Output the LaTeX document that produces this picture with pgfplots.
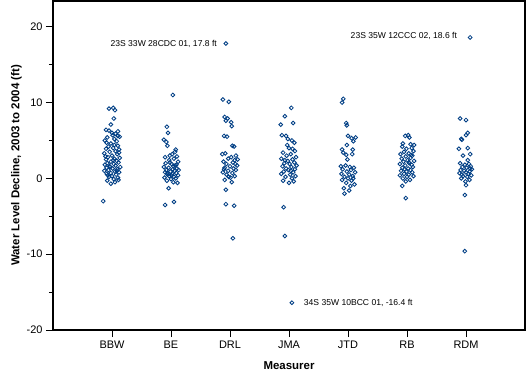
\documentclass[border=0pt]{standalone}
\usepackage{pgfplots}
\pgfplotsset{compat=1.18}
\usepackage{fontspec}
\setmainfont{Liberation Sans}
\definecolor{ptblue}{RGB}{0,62,132}
\begin{document}
\begin{tikzpicture}
\begin{axis}[
  at={(0,0)}, anchor=south west,
  scale only axis, width=472bp, height=329bp,
  xmin=-1, xmax=7, ymin=-20, ymax=23.4,
  xtick={0,1,2,3,4,5,6},
  xticklabels={BBW,BE,DRL,JMA,JTD,RB,RDM},
  ytick={-20,-10,0,10,20},
  minor ytick={-15,-5,5,15},
  tick pos=left, tick align=outside,
  major tick length=7bp, minor tick length=4bp,
  every tick/.style={black, line width=0.8bp},
  axis line style={black, line width=1.2bp},
  tick label style={font=\fontsize{11}{13}\selectfont},
  /pgf/number format/assume math mode=true,
  xlabel={\textbf{Measurer}},
  ylabel={\textbf{Water Level Decline, 2003 to 2004 (ft)}},
  label style={font=\fontsize{11.5}{13}\selectfont},
  xlabel style={yshift=-7bp},
  ylabel style={yshift=-2bp},
  clip=false,
]
\addplot[only marks, mark=o, mark size=1.9bp, ptblue, mark options={line width=0.85bp}] table {
x y
-0.05 9.2
0.02 9.3
0.05 9.0
0.03 7.9
-0.02 7.1
-0.10 6.4
-0.05 6.3
0.00 6.0
0.06 5.9
0.10 5.6
-0.08 5.4
0.04 5.2
0.13 5.5
-0.12 5.0
0.08 4.9
-0.02 4.6
0.10 4.3
-0.06 4.2
0.02 4.0
-0.10 3.9
0.12 3.8
0.06 3.6
-0.04 3.5
-0.13 3.3
0.09 3.2
0.00 3.0
-0.07 2.8
0.13 2.7
0.04 2.6
-0.10 2.5
0.08 2.3
-0.02 2.2
0.11 2.1
-0.08 2.0
0.03 1.9
-0.12 1.8
0.06 1.7
-0.04 1.6
0.14 1.5
-0.09 1.4
0.01 1.3
0.09 1.2
-0.06 1.1
-0.13 1.0
0.05 0.9
0.12 0.8
-0.02 0.7
-0.09 0.6
0.07 0.5
0.00 0.3
-0.05 0.2
0.10 0.1
0.03 -0.1
-0.08 -0.3
0.05 -0.5
-0.02 -0.7
-0.15 -3.0
0.12 3.4
-0.11 2.9
0.02 2.4
-0.03 1.5
0.08 1.0
-0.07 0.4
0.11 -0.2
0.04 4.4
-0.09 4.7
0.01 5.7
0.10 6.2
1.03 11.0
0.93 6.8
0.95 6.0
0.88 5.1
1.08 3.8
0.94 4.3
0.92 4.8
1.02 3.2
0.90 2.8
1.10 2.9
1.05 2.6
0.97 2.4
1.12 2.2
0.91 2.0
1.01 1.9
1.07 1.7
0.88 1.5
0.96 1.4
1.10 1.3
1.03 1.2
0.92 1.1
1.06 1.0
0.99 0.9
0.90 0.8
1.09 0.7
1.02 0.6
0.94 0.5
1.12 0.4
0.97 0.3
1.05 0.2
0.89 0.1
1.08 0.0
1.00 -0.1
0.93 -0.3
1.04 -0.5
1.11 -0.6
0.96 -1.3
0.90 -3.5
1.05 -3.1
1.04 1.6
0.98 2.1
1.09 1.8
0.94 0.7
1.01 0.4
1.07 3.5
0.98 3.0
1.13 1.1
1.93 17.8
1.88 10.4
1.98 10.1
1.91 8.1
1.96 7.9
2.02 7.4
1.93 7.6
2.03 6.9
1.90 5.6
1.95 5.5
2.04 4.3
2.07 4.2
1.87 3.2
1.92 3.3
2.10 3.0
2.02 2.8
1.97 2.6
2.08 2.4
1.89 2.2
2.05 2.1
1.94 1.9
2.12 1.7
2.00 1.6
1.91 1.4
2.06 1.3
2.10 1.1
1.97 1.0
1.88 0.8
2.04 0.7
1.94 0.5
2.08 0.3
2.01 0.1
1.91 -0.2
2.03 -0.5
1.93 -1.5
1.93 -3.4
2.07 -3.6
2.05 -7.9
2.13 2.5
1.98 0.2
2.09 1.9
1.90 1.2
3.04 9.3
2.93 8.2
3.07 7.3
2.86 7.1
2.88 5.7
2.98 5.2
2.95 5.6
3.09 4.7
3.05 5.0
3.00 4.0
2.90 3.4
3.10 3.6
3.03 3.2
2.96 3.0
3.12 2.8
2.87 2.6
3.06 2.5
2.98 2.3
3.09 2.1
2.92 2.0
3.01 1.9
3.13 1.7
2.89 1.6
3.04 1.5
2.95 1.3
3.10 1.2
2.99 1.1
2.91 0.9
3.07 0.8
2.87 0.6
3.02 0.5
3.11 0.3
2.94 0.2
3.05 0.0
2.90 -0.3
3.08 -0.4
3.00 -0.6
2.91 -3.8
2.93 -7.6
3.05 -16.4
3.06 3.9
2.93 2.4
3.03 1.0
2.97 4.4
3.92 10.5
3.90 10.0
3.97 7.3
3.98 7.0
4.00 5.6
4.06 5.3
4.13 5.4
4.09 4.9
3.98 4.4
3.90 3.8
3.92 3.4
3.97 3.1
4.08 3.8
4.07 3.2
3.88 1.6
3.96 1.7
4.03 1.5
4.10 1.4
3.91 1.2
4.05 1.1
3.98 0.9
4.12 0.8
3.89 0.6
4.02 0.5
4.08 0.3
3.94 0.2
4.00 0.0
3.90 -0.2
4.06 -0.3
3.97 -0.6
4.04 -1.0
3.93 -1.3
3.94 -2.0
4.09 0.0
4.11 -0.8
3.99 2.5
4.02 -1.6
5.02 5.7
4.97 5.6
5.04 5.4
4.92 4.2
5.06 4.5
5.08 4.0
4.99 3.9
5.11 3.6
4.95 3.5
5.03 3.3
4.89 3.2
5.09 3.0
4.98 2.9
5.06 2.7
4.91 2.6
5.01 2.4
5.12 2.3
4.94 2.2
5.04 2.0
4.88 1.9
5.08 1.8
4.97 1.7
5.10 1.5
4.92 1.4
5.02 1.3
5.06 1.1
4.90 1.0
4.99 0.9
5.09 0.8
4.95 0.6
5.03 0.5
4.88 0.4
5.11 0.3
5.00 0.2
4.93 0.0
5.05 -0.2
4.98 -0.4
4.92 -1.0
4.98 -2.6
5.07 3.1
4.96 1.2
5.12 4.4
4.93 4.6
5.03 2.1
6.07 18.6
5.90 7.9
6.00 7.7
6.03 6.0
6.00 5.7
5.92 5.2
5.93 5.1
5.88 3.9
6.03 4.0
6.07 3.2
5.95 3.0
6.03 2.4
5.90 2.0
6.05 1.9
5.98 1.8
6.08 1.6
5.94 1.5
6.01 1.4
6.10 1.2
5.91 1.1
5.97 1.0
6.06 0.9
6.00 0.8
5.89 0.7
6.04 0.6
6.09 0.4
5.95 0.3
6.02 0.2
5.92 0.0
6.06 -0.2
5.99 -0.4
6.00 -0.9
5.98 -2.2
5.98 -9.6
6.07 1.3
5.93 0.5
};
\node[anchor=east, font=\fontsize{8.6}{10}\selectfont, inner sep=0pt] at (axis cs:1.78,17.8) {23S 33W 28CDC 01, 17.8 ft};
\node[anchor=east, font=\fontsize{8.6}{10}\selectfont, inner sep=0pt] at (axis cs:5.85,18.75) {23S 35W 12CCC 02, 18.6 ft};
\node[anchor=west, font=\fontsize{8.6}{10}\selectfont, inner sep=0pt] at (axis cs:3.25,-16.4) {34S 35W 10BCC 01, -16.4 ft};
\end{axis}
\pgfresetboundingbox
\useasboundingbox (-53bp,-41bp) rectangle (477bp,330bp);
\end{tikzpicture}
\end{document}
